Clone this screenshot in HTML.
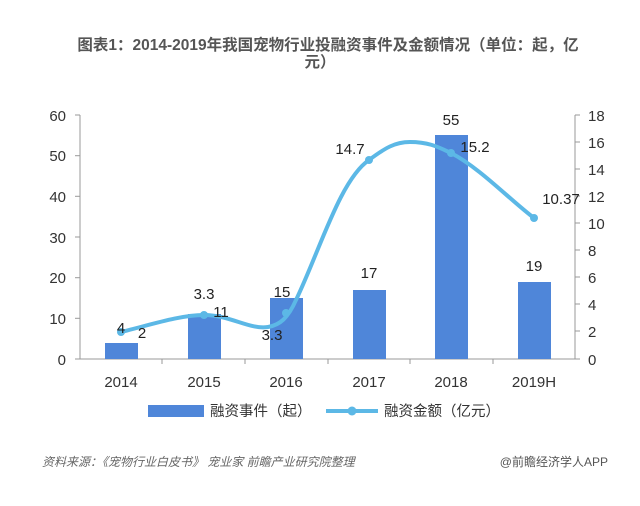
<!DOCTYPE html>
<html><head><meta charset="utf-8"><style>
html,body{margin:0;padding:0;background:#fff;}
body{width:640px;height:501px;overflow:hidden;font-family:"Liberation Sans","Noto Sans CJK SC",sans-serif;}
</style></head><body>
<svg width="640" height="501" xmlns="http://www.w3.org/2000/svg" font-family="Liberation Sans, Noto Sans CJK SC, sans-serif">
<text x="328" y="50" text-anchor="middle" font-size="15.5" font-weight="bold" fill="#555">图表1：2014-2019年我国宠物行业投融资事件及金额情况（单位：起，亿</text>
<text x="320" y="67" text-anchor="middle" font-size="15.5" font-weight="bold" fill="#555">元）</text>
<g stroke="#999" stroke-width="1">
<line x1="80" y1="115" x2="80" y2="359"/>
<line x1="80" y1="359" x2="575" y2="359"/>
<line x1="575" y1="115" x2="575" y2="359"/>
</g>
<g stroke="#999">
<line x1="75" y1="115" x2="80" y2="115"/><line x1="75" y1="155.7" x2="80" y2="155.7"/><line x1="75" y1="196.3" x2="80" y2="196.3"/><line x1="75" y1="237" x2="80" y2="237"/><line x1="75" y1="277.7" x2="80" y2="277.7"/><line x1="75" y1="318.3" x2="80" y2="318.3"/><line x1="75" y1="359" x2="80" y2="359"/>
<line x1="575" y1="115" x2="580" y2="115"/><line x1="575" y1="142" x2="580" y2="142"/><line x1="575" y1="169" x2="580" y2="169"/><line x1="575" y1="196" x2="580" y2="196"/><line x1="575" y1="223" x2="580" y2="223"/><line x1="575" y1="250" x2="580" y2="250"/><line x1="575" y1="277" x2="580" y2="277"/><line x1="575" y1="304" x2="580" y2="304"/><line x1="575" y1="331" x2="580" y2="331"/><line x1="575" y1="359" x2="580" y2="359"/>
<line x1="162" y1="359" x2="162" y2="364"/><line x1="245" y1="359" x2="245" y2="364"/><line x1="328" y1="359" x2="328" y2="364"/><line x1="410" y1="359" x2="410" y2="364"/><line x1="493" y1="359" x2="493" y2="364"/>
</g>
<g font-size="15" fill="#333" text-anchor="end">
<text x="66" y="121">60</text><text x="66" y="161">50</text><text x="66" y="202">40</text><text x="66" y="243">30</text><text x="66" y="283">20</text><text x="66" y="324">10</text><text x="66" y="365">0</text>
</g>
<g font-size="15" fill="#333" text-anchor="start">
<text x="588" y="121">18</text><text x="588" y="148">16</text><text x="588" y="175">14</text><text x="588" y="202">12</text><text x="588" y="229">10</text><text x="588" y="256">8</text><text x="588" y="283">6</text><text x="588" y="310">4</text><text x="588" y="337">2</text><text x="588" y="365">0</text>
</g>
<g fill="#4f86d9">
<rect x="105" y="343" width="33" height="16"/>
<rect x="188" y="314" width="33" height="45"/>
<rect x="270" y="298" width="33" height="61"/>
<rect x="353" y="290" width="33" height="69"/>
<rect x="435" y="135" width="33" height="224"/>
<rect x="518" y="282" width="33" height="77"/>
</g>
<path d="M121,332 C150,325 180,315 204,315 C230,315 250,330 268,327 C280,325 288,318 296,300 C320,250 340,180 369,160 C385,148 395,142 410,142 C430,142 440,148 451,153 C480,168 510,200 534,218" fill="none" stroke="#5cb8e6" stroke-width="4" stroke-linecap="round"/>
<g fill="#5cb8e6">
<circle cx="121" cy="332" r="4"/><circle cx="204" cy="315" r="4"/><circle cx="286" cy="313" r="4"/><circle cx="369" cy="160" r="4"/><circle cx="451" cy="153" r="4"/><circle cx="534" cy="218" r="4"/>
</g>
<g font-size="15" fill="#222" text-anchor="middle">
<text x="121" y="333">4</text><text x="142" y="338">2</text>
<text x="204" y="299">3.3</text><text x="221" y="317">11</text>
<text x="282" y="297">15</text><text x="272" y="340">3.3</text>
<text x="350" y="154">14.7</text><text x="369" y="278">17</text>
<text x="451" y="125">55</text><text x="475" y="152">15.2</text>
<text x="534" y="271">19</text><text x="561" y="204">10.37</text>
</g>
<g font-size="15" fill="#333" text-anchor="middle">
<text x="121" y="387">2014</text><text x="204" y="387">2015</text><text x="286" y="387">2016</text><text x="369" y="387">2017</text><text x="451" y="387">2018</text><text x="534" y="387">2019H</text>
</g>
<rect x="148" y="405" width="56" height="12" fill="#4f86d9"/>
<text x="210" y="416" font-size="14.5" fill="#333">融资事件（起）</text>
<line x1="326" y1="411" x2="378" y2="411" stroke="#5cb8e6" stroke-width="4"/>
<circle cx="352" cy="411" r="4.5" fill="#5cb8e6"/>
<text x="384" y="416" font-size="14.5" fill="#333">融资金额（亿元）</text>
<text x="42" y="466" font-size="12" fill="#666" font-style="italic">资料来源：《宠物行业白皮书》 宠业家 前瞻产业研究院整理</text>
<text x="608" y="466" font-size="12" fill="#555" text-anchor="end">@前瞻经济学人APP</text>
</svg>
</body></html>
